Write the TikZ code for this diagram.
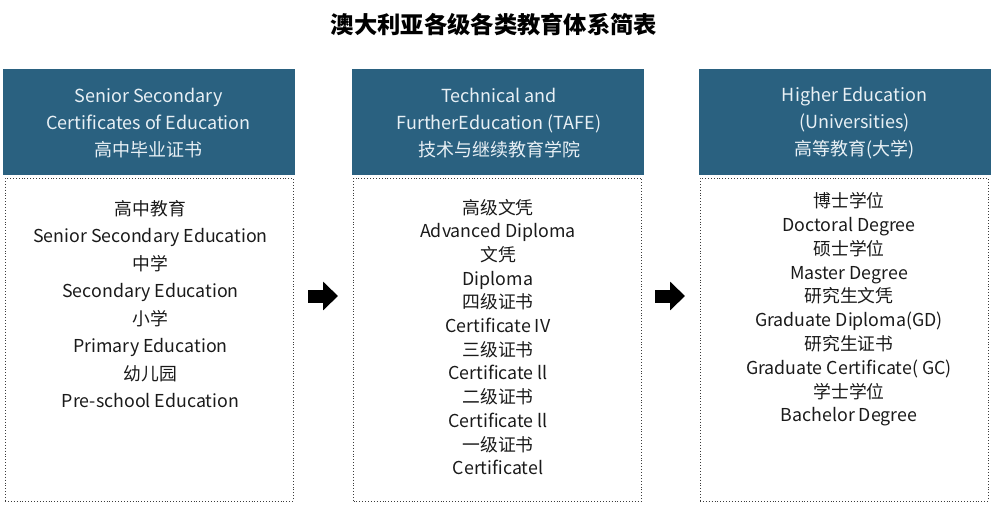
\documentclass[tikz,border=0pt]{standalone}
\usepackage{fontspec}
\setmainfont{Noto Sans CJK SC}
\usetikzlibrary{arrows.meta}
\definecolor{hdrblue}{RGB}{42,97,128}
\definecolor{hdrtext}{RGB}{232,240,245}
\definecolor{bodytext}{RGB}{26,26,26}
\definecolor{dotgray}{RGB}{60,60,60}
\tikzset{
  hdrbox/.style={fill=hdrblue, draw=none, minimum width=292pt, minimum height=106pt, inner sep=0pt},
  hdrlabel/.style={text=hdrtext, align=center, font=\fontsize{18}{27}\selectfont, inner sep=0pt},
  bodybox/.style={draw=dotgray, dotted, line width=0.9pt, minimum width=288pt, minimum height=323pt, inner sep=0pt},
  bodylabel/.style={text=bodytext, align=center, inner sep=0pt},
  blockarrow/.style={line width=13pt, -{Triangle[length=15pt,width=28pt]}, black}
}
\begin{document}
\begin{tikzpicture}[x=1pt,y=-1pt]
\useasboundingbox (0,0) rectangle (993,504);
\node[font=\fontsize{23.3}{26}\selectfont\bfseries, text=black, inner sep=0pt] (title) at (494,25) {澳大利亚各级各类教育体系简表};

% headers
\node[hdrbox] (h1) at (149,122) {};
\node[hdrbox] (h2) at (497.5,122) {};
\node[hdrbox] (h3) at (844.5,122) {};
\node[hdrlabel] (h1t) at (148.5,123) {Senior Secondary\\Certificates of Education\\高中毕业证书};
\node[hdrlabel] (h2t) at (499,123) {Technical and\\FurtherEducation (TAFE)\\技术与继续教育学院};
\node[hdrlabel] (h3t) at (854.5,123.5) {Higher Education\\(Universities)\\高等教育(大学)};

% bodies
\node[bodybox] (b1) at (149,339.5) {};
\node[bodybox] (b2) at (497.5,339.5) {};
\node[bodybox] (b3) at (844,339.5) {};

\node[bodylabel, font=\fontsize{17.8}{27.5}\selectfont] (b1t) at (150.5,304) {高中教育\\Senior Secondary Education\\中学\\Secondary Education\\小学\\Primary Education\\幼儿园\\Pre-school Education};
\node[bodylabel, font=\fontsize{17.8}{23.7}\selectfont] (b2t) at (498,337) {高级文凭\\Advanced Diploma\\文凭\\Diploma\\四级证书\\Certificate IV\\三级证书\\Certificate ll\\二级证书\\Certificate ll\\一级证书\\Certificatel};
\node[bodylabel, font=\fontsize{17.8}{23.8}\selectfont] (b3t) at (849,309.5) {博士学位\\Doctoral Degree\\硕士学位\\Master Degree\\研究生文凭\\Graduate Diploma(GD)\\研究生证书\\Graduate Certificate( GC)\\学士学位\\Bachelor Degree};

% arrows
\coordinate (a1s) at (308,296);
\coordinate (a1e) at (338,296);
\coordinate (a2s) at (655,296);
\coordinate (a2e) at (685,296);
\draw[blockarrow] (a1s) -- (a1e);
\draw[blockarrow] (a2s) -- (a2e);
\end{tikzpicture}
\end{document}
